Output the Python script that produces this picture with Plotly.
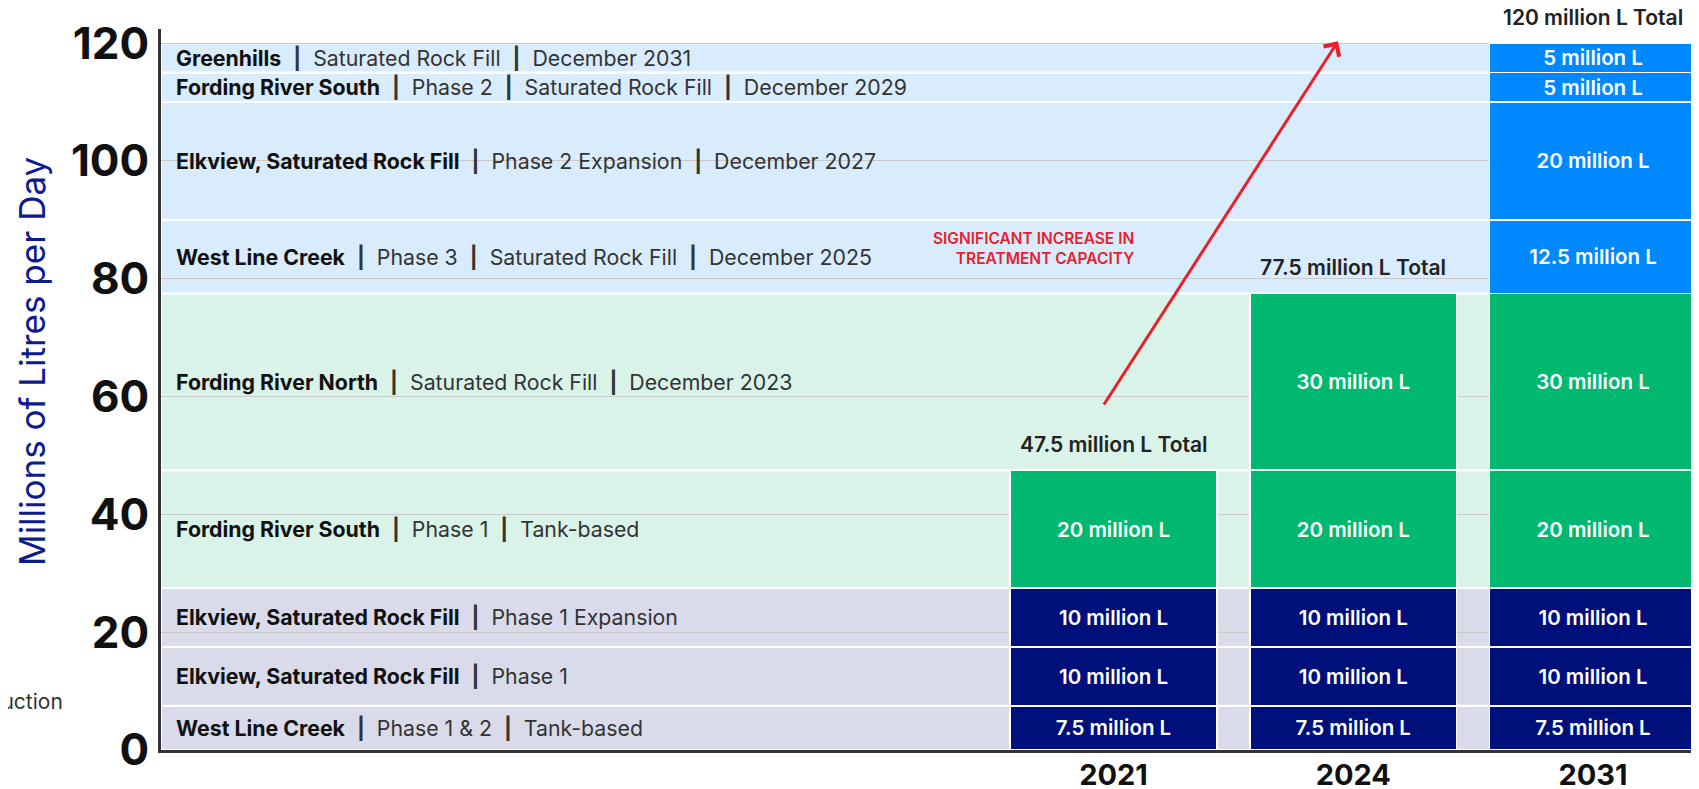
import plotly.graph_objects as go

years = ["2021", "2024", "2031"]
totals = [47.5, 77.5, 120]
y_ticks = [0, 20, 40, 60, 80, 100, 120]

# treatment facilities, bottom of the stack to the top
plant_names = [
    "West Line Creek",
    "Elkview, Saturated Rock Fill",
    "Elkview, Saturated Rock Fill",
    "Fording River South",
    "Fording River North",
    "West Line Creek",
    "Elkview, Saturated Rock Fill",
    "Fording River South",
    "Greenhills",
]
plant_details = [
    ["Phase 1 & 2", "Tank-based"],
    ["Phase 1"],
    ["Phase 1 Expansion"],
    ["Phase 1", "Tank-based"],
    ["Saturated Rock Fill", "December 2023"],
    ["Phase 3", "Saturated Rock Fill", "December 2025"],
    ["Phase 2 Expansion", "December 2027"],
    ["Phase 2", "Saturated Rock Fill", "December 2029"],
    ["Saturated Rock Fill", "December 2031"],
]
plant_capacity = [7.5, 10, 10, 20, 30, 12.5, 20, 5, 5]
plant_first_year = ["2021", "2021", "2021", "2021", "2024", "2031", "2031", "2031", "2031"]
plant_group = [0, 0, 0, 1, 1, 2, 2, 2, 2]

bar_colors = ["#00107b", "#00b86f", "#0089ff"]
band_colors = ["#d9dbea", "#d9f3e9", "#d9ecfd"]

FONT = "Inter"
BAR_W = 0.863

fig = go.Figure()

bottom = 0
for i, name in enumerate(plant_names):
    cap = plant_capacity[i]
    start = years.index(plant_first_year[i])
    xs = list(range(start, len(years)))
    fig.add_bar(
        x=xs,
        y=[cap] * len(xs),
        width=BAR_W,
        marker={"color": bar_colors[plant_group[i]], "line": {"color": "white", "width": 1.5}},
        text=[f"{cap:g} million L"] * len(xs),
        textposition="inside",
        insidetextanchor="middle",
        textfont={"color": "white", "size": 20.5, "family": FONT, "weight": 600},
        hoverinfo="skip",
        showlegend=False,
    )

    # background band across the whole plot
    fig.add_shape(
        type="rect", xref="paper", x0=0, x1=1, y0=bottom, y1=bottom + cap,
        fillcolor=band_colors[plant_group[i]], line={"color": "white", "width": 2},
        layer="below",
    )
    label = f"<span style='color:#111'><b>{name}</b></span>"
    for d in plant_details[i]:
        label += "\u00a0\u00a0<b>|</b>\u00a0\u00a0" + d
    fig.add_annotation(
        xref="paper", x=0.0085, y=bottom + cap / 2, text=label,
        xanchor="left", yanchor="middle", showarrow=False,
        font={"size": 21.3, "color": "#333", "family": FONT},
    )
    bottom += cap

for i, t in enumerate(totals):
    fig.add_annotation(
        x=i, y=t, text=f"{t:g} million L Total", showarrow=False,
        yanchor="middle", yshift=26,
        font={"size": 21, "color": "#222", "family": FONT, "weight": 600},
    )

# red growth arrow
fig.add_annotation(
    x=0.936, y=120.3, ax=-0.044, ay=58.4, axref="x", ayref="y",
    showarrow=True, arrowhead=4, arrowsize=1.2, arrowwidth=3, arrowcolor="#e8202a",
    text="",
)
fig.add_annotation(
    x=0.095, y=85.2, text="SIGNIFICANT INCREASE IN<br>TREATMENT CAPACITY",
    xanchor="right", align="right", showarrow=False,
    font={"size": 15.5, "color": "#e8202a", "family": FONT, "weight": 600},
)

# y title
fig.add_annotation(
    xref="paper", yref="paper", x=-0.0839, y=0.5395, text="Millions of Litres per Day",
    textangle=-90, showarrow=False, xanchor="center", yanchor="middle",
    font={"size": 35, "color": "#0d1c8c", "family": FONT},
)
fig.add_annotation(
    xref="paper", yref="paper", x=-0.0625, y=0.0666, text="Production",
    xanchor="right", yanchor="middle", showarrow=False,
    font={"size": 21, "color": "#333", "family": FONT},
)

# page body keeps an 8px margin, so the figure is sized to end at the window edge
fig.update_layout(
    width=1691,
    height=781,
    barmode="stack",
    margin={"l": 153, "r": 0, "t": 21, "b": 39},
    plot_bgcolor="white",
    paper_bgcolor="white",
    font={"family": FONT},
    uniformtext={"minsize": 20.5, "mode": "show"},
    xaxis={
        "range": [-3.973, 2.442],
        "tickvals": list(range(len(years))),
        "ticktext": years,
        "tickfont": {"size": 29, "color": "#111", "weight": 700},
        "showgrid": False,
        "zeroline": False,
        "showline": True,
        "linecolor": "#333",
        "linewidth": 3,
        "ticklabelstandoff": -3,
        "automargin": False,
    },
    yaxis={
        "range": [0, 122.4],
        "tickvals": y_ticks,
        "tickfont": {"size": 44, "color": "#111", "weight": 700},
        "gridcolor": "#c9c9c9",
        "gridwidth": 1,
        "zeroline": False,
        "showline": True,
        "linecolor": "#333",
        "linewidth": 3,
        "ticklabelstandoff": 0,
        "automargin": False,
    },
)

fig.write_html("out.html")
